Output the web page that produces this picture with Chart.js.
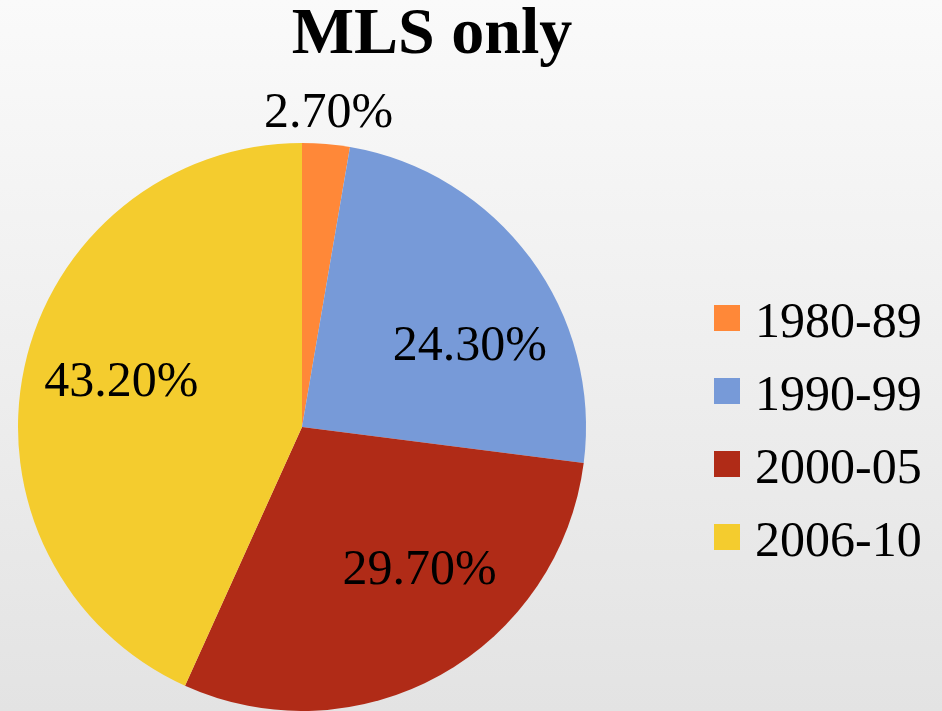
<!DOCTYPE html>
<html>
<head>
<meta charset="utf-8">
<script src="https://cdn.jsdelivr.net/npm/chart.js@4.4.0/dist/chart.umd.min.js"></script>
<style>
  html, body { margin: 0; padding: 0; overflow: hidden; }
  #wrap {
    position: relative;
    width: 942px;
    height: 711px;
    background: linear-gradient(#fafafa, #e3e3e3);
  }
</style>
</head>
<body>
<div id="wrap"><canvas id="myChart" width="942" height="711"></canvas></div>
<script>
const chartTitle = 'MLS only';
const periods = ['1980-89', '1990-99', '2000-05', '2006-10'];
const shares = [2.7, 24.3, 29.7, 43.2];
const sliceColors = ['#FF8838', '#779AD8', '#B02B17', '#F4CC2E'];

const serif = '"Liberation Serif", "DejaVu Serif", serif';
// small nudges so the labels sit where the original "best fit" put them
const labelShiftDeg = [0, 11, -10, 1.5];

// title drawn over the canvas
const titlePlugin = {
  id: 'titleText',
  afterDraw(chart) {
    const ctx = chart.ctx;
    ctx.save();
    ctx.font = 'bold 66px ' + serif;
    ctx.fillStyle = '#000';
    ctx.textAlign = 'center';
    ctx.textBaseline = 'alphabetic';
    ctx.fillText(chartTitle, 432, 53);
    ctx.restore();
  }
};

// legend on the right, one row per category
const sideLegend = {
  id: 'sideLegend',
  afterDraw(chart) {
    const ctx = chart.ctx;
    const ds = chart.data.datasets[0];
    ctx.save();
    ctx.font = '50px ' + serif;
    ctx.textBaseline = 'alphabetic';
    ctx.textAlign = 'left';
    chart.data.labels.forEach((lbl, i) => {
      const top = 305 + i * 73;
      ctx.fillStyle = ds.backgroundColor[i];
      ctx.fillRect(714, top, 26, 26);
      ctx.fillStyle = '#000';
      ctx.fillText(lbl, 755, top + 32);
    });
    ctx.restore();
  }
};

// percent labels on the slices
const sliceLabels = {
  id: 'sliceLabels',
  afterDatasetsDraw(chart) {
    const ctx = chart.ctx;
    const meta = chart.getDatasetMeta(0);
    const values = chart.data.datasets[0].data;
    ctx.save();
    ctx.font = '50px ' + serif;
    ctx.fillStyle = '#000';
    ctx.textAlign = 'center';
    ctx.textBaseline = 'middle';
    meta.data.forEach((arc, i) => {
      const p = arc.getProps(['x', 'y', 'startAngle', 'endAngle', 'outerRadius'], true);
      const mid = (p.startAngle + p.endAngle) / 2 + labelShiftDeg[i] * Math.PI / 180;
      const r = values[i] < 5 ? p.outerRadius + 30 : p.outerRadius * 0.655;
      ctx.fillText(values[i].toFixed(2) + '%', p.x + Math.cos(mid) * r, p.y + Math.sin(mid) * r);
    });
    ctx.restore();
  }
};

const ctx = document.getElementById('myChart').getContext('2d');
const myChart = new Chart(ctx, {
  type: 'pie',
  data: {
    labels: periods,
    datasets: [{
      data: shares,
      backgroundColor: sliceColors,
      borderWidth: 0
    }]
  },
  options: {
    responsive: false,
    animation: false,
    devicePixelRatio: 1,
    layout: {
      padding: { left: 18, right: 356, top: 143, bottom: 0 }
    },
    plugins: {
      legend: { display: false },
      title: { display: false },
      tooltip: { enabled: false }
    }
  },
  plugins: [sliceLabels, titlePlugin, sideLegend]
});
</script>
</body>
</html>
